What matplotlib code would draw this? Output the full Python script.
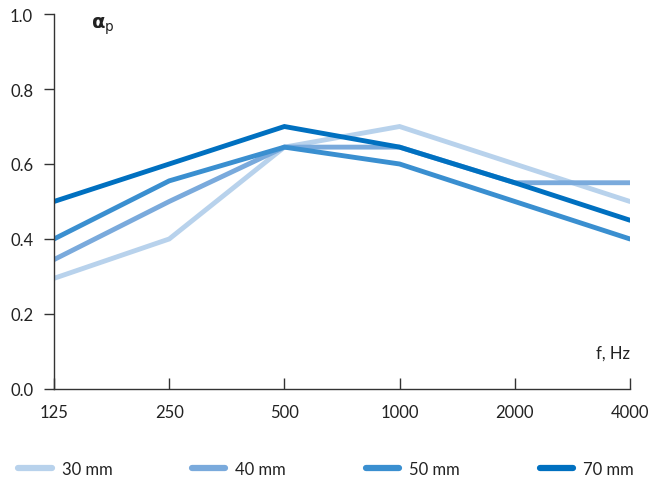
import matplotlib.pyplot as plt
from matplotlib.lines import Line2D

plt.rcParams['font.family'] = ['Lato', 'DejaVu Sans']

freqs = ['125', '250', '500', '1000', '2000', '4000']
labels = ['30 mm', '40 mm', '50 mm', '70 mm']
a30 = [0.295, 0.40, 0.645, 0.70, 0.60, 0.50]
a40 = [0.345, 0.50, 0.645, 0.645, 0.55, 0.55]
a50 = [0.40, 0.555, 0.645, 0.60, 0.50, 0.40]
a70 = [0.50, 0.60, 0.70, 0.645, 0.55, 0.45]
colors = ['#b8d2ec', '#7aaadc', '#3a8fd0', '#0070c0']

fig = plt.figure(figsize=(6.62, 4.85), dpi=100)
ax = fig.add_axes([0.0816, 0.196, 0.870, 0.773])

x = list(range(len(freqs)))
for vals, c in zip([a30, a40, a50, a70], colors):
    ax.plot(x, vals, color=c, lw=3.5, solid_capstyle='round', solid_joinstyle='miter')

ax.set_xlim(0, 5)
ax.set_ylim(0, 1.0)
ax.set_yticks([0, 0.2, 0.4, 0.6, 0.8, 1.0])
ax.set_yticklabels(['0.0', '0.2', '0.4', '0.6', '0.8', '1.0'])
ax.set_xticks(x)
ax.set_xticklabels(freqs)
for s in ['top', 'right']:
    ax.spines[s].set_visible(False)
for s in ['left', 'bottom']:
    ax.spines[s].set_color('#333333')
    ax.spines[s].set_linewidth(1.0)
ax.tick_params(axis='y', direction='out', length=7, width=1, color='#333333',
               labelsize=12, labelcolor='#222222', pad=8)
ax.tick_params(axis='x', direction='in', length=8, width=1, color='#333333',
               labelsize=12, labelcolor='#222222', pad=11)

ax.text(0.065, 1.0, r'$\mathbf{\alpha}_\mathrm{p}$', transform=ax.transAxes,
        fontsize=14, ha='left', va='top', color='#222222')
ax.text(1.0, 0.075, 'f, Hz', transform=ax.transAxes, fontsize=12,
        ha='right', va='bottom', color='#222222')

handles = [Line2D([], [], color=c, lw=4.5, solid_capstyle='round') for c in colors]
fig.legend(handles, labels, loc='lower left', bbox_to_anchor=(0.005, -0.017, 0.975, 0.06),
           ncol=4, mode='expand', frameon=False, fontsize=12, handlelength=2.0,
           handletextpad=0.6, labelcolor='#222222')

fig.savefig('out.png', dpi=100)
